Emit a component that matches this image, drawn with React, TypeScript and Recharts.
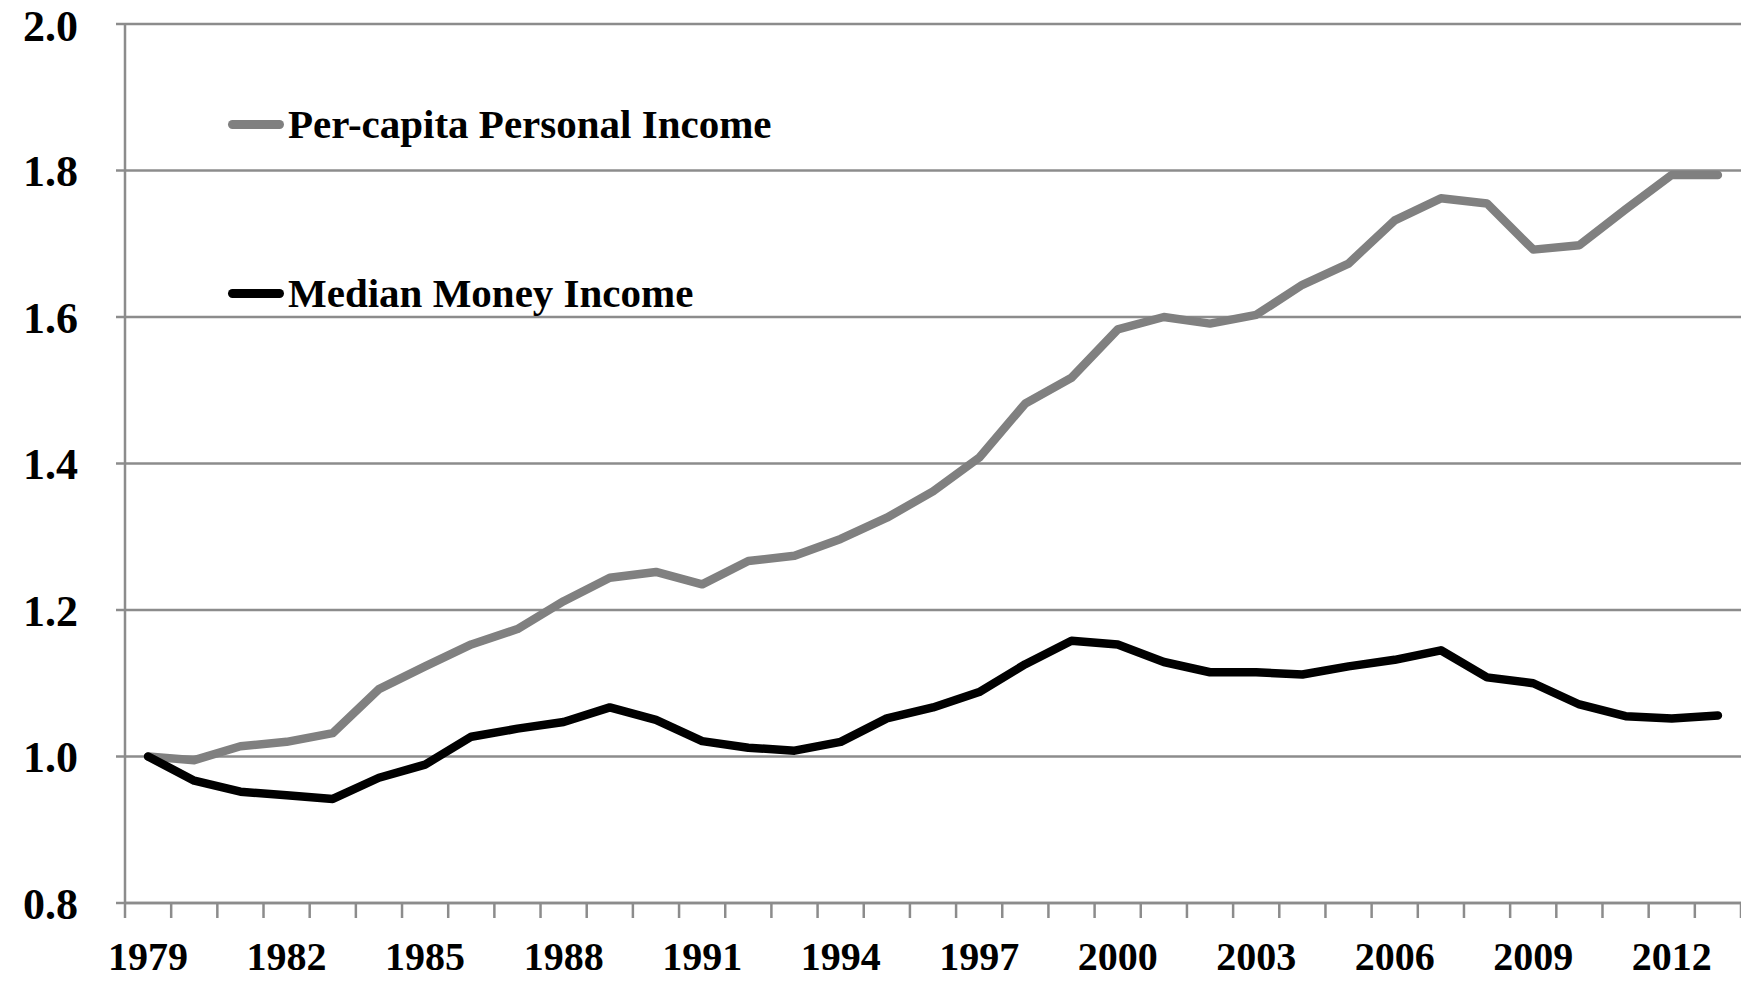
import { LineChart, Line, XAxis, YAxis, CartesianGrid, Legend } from "recharts";

const years = [
  1979, 1980, 1981, 1982, 1983, 1984, 1985, 1986, 1987, 1988, 1989, 1990,
  1991, 1992, 1993, 1994, 1995, 1996, 1997, 1998, 1999, 2000, 2001, 2002,
  2003, 2004, 2005, 2006, 2007, 2008, 2009, 2010, 2011, 2012, 2013,
];

const perCapita = [
  1.0, 0.995, 1.014, 1.02, 1.032, 1.092, 1.123, 1.153, 1.174, 1.212, 1.244,
  1.252, 1.235, 1.267, 1.274, 1.297, 1.326, 1.362, 1.408, 1.482, 1.517, 1.583,
  1.6, 1.591, 1.603, 1.644, 1.673, 1.732, 1.762, 1.755, 1.692, 1.698, 1.747,
  1.794, 1.794,
];

const median = [
  1.0, 0.967, 0.952, 0.947, 0.942, 0.971, 0.989, 1.027, 1.038, 1.047, 1.067,
  1.05, 1.021, 1.012, 1.008, 1.02, 1.052, 1.067, 1.088, 1.126, 1.158, 1.153,
  1.129, 1.115, 1.115, 1.112, 1.123, 1.132, 1.145, 1.108, 1.1, 1.071, 1.055,
  1.052, 1.056,
];

const labelYears = [1979, 1982, 1985, 1988, 1991, 1994, 1997, 2000, 2003, 2006, 2009, 2012];
// tick marks sit between the years, like a category axis
const boundaryTicks = [...years.map((y) => y - 0.5), 2013.5];
const yTicks = [0.8, 1.0, 1.2, 1.4, 1.6, 1.8, 2.0];

const seriesInfo = [
  { key: "perCapita", name: "Per-capita Personal Income", color: "#808080" },
  { key: "median", name: "Median Money Income", color: "#000000" },
];

const data = years.map((year, i) => ({
  year,
  perCapita: perCapita[i],
  median: median[i],
}));

const FONT = "'Liberation Serif', 'DejaVu Serif', serif";
const GRID = "#8c8c8c";

function YearTick(props: any) {
  const { x, y, payload } = props;
  const v = Number(payload?.value);
  if (!Number.isInteger(v)) {
    return <line x1={x} x2={x} y1={y} y2={y + 15} stroke={GRID} strokeWidth={2.5} />;
  }
  return (
    <text
      x={x}
      y={y + 39}
      dy="0.71em"
      textAnchor="middle"
      fontFamily={FONT}
      fontWeight={700}
      fontSize={40}
      fill="#000"
    >
      {v}
    </text>
  );
}

function LegendBox() {
  return (
    <div style={{ fontFamily: FONT, fontWeight: 700, fontSize: 41, color: "#000" }}>
      {seriesInfo.map((s, i) => (
        <div
          key={s.key}
          style={{
            display: "flex",
            alignItems: "center",
            height: 60,
            marginBottom: i === 0 ? 109 : 0,
            whiteSpace: "nowrap",
          }}
        >
          <span
            style={{
              display: "inline-block",
              width: 56,
              height: 9,
              borderRadius: 5,
              background: s.color,
              marginRight: 4,
            }}
          />
          <span style={{ lineHeight: 1 }}>{s.name}</span>
        </div>
      ))}
    </div>
  );
}

export default function App() {
  return (
    <div style={{ position: "absolute", left: 0, top: 0, background: "#fff" }}>
      <LineChart
        width={1741}
        height={982}
        data={data}
        margin={{ top: 24, right: 0, bottom: 0, left: 0 }}
      >
        <CartesianGrid horizontal vertical={false} stroke={GRID} strokeWidth={2.5} />
        <XAxis
          dataKey="year"
          type="number"
          domain={[1978.5, 2013.5]}
          ticks={[...boundaryTicks, ...labelYears]}
          interval={0}
          height={79}
          stroke={GRID}
          strokeWidth={2.5}
          tickLine={false}
          tickSize={0}
          tickMargin={0}
          tick={<YearTick />}
          allowDataOverflow
        />
        <YAxis
          domain={[0.8, 2.0]}
          ticks={yTicks}
          width={125}
          tickFormatter={(v: number) => v.toFixed(1)}
          stroke={GRID}
          strokeWidth={2.5}
          tickSize={9}
          tickMargin={38}
          tickLine={{ stroke: GRID, strokeWidth: 2.5 }}
          tick={{ fontFamily: FONT, fontWeight: 700, fontSize: 44, fill: "#000" }}
          allowDataOverflow
        />
        <Legend
          verticalAlign="top"
          align="left"
          content={() => <LegendBox />}
          wrapperStyle={{ left: 228, top: 94, width: "auto", height: 0, overflow: "visible" }}
        />
        {seriesInfo.map((s) => (
          <Line
            key={s.key}
            dataKey={s.key}
            name={s.name}
            stroke={s.color}
            strokeWidth={8.5}
            dot={false}
            type="linear"
            strokeLinecap="round"
            strokeLinejoin="round"
            isAnimationActive={false}
          />
        ))}
      </LineChart>
    </div>
  );
}
